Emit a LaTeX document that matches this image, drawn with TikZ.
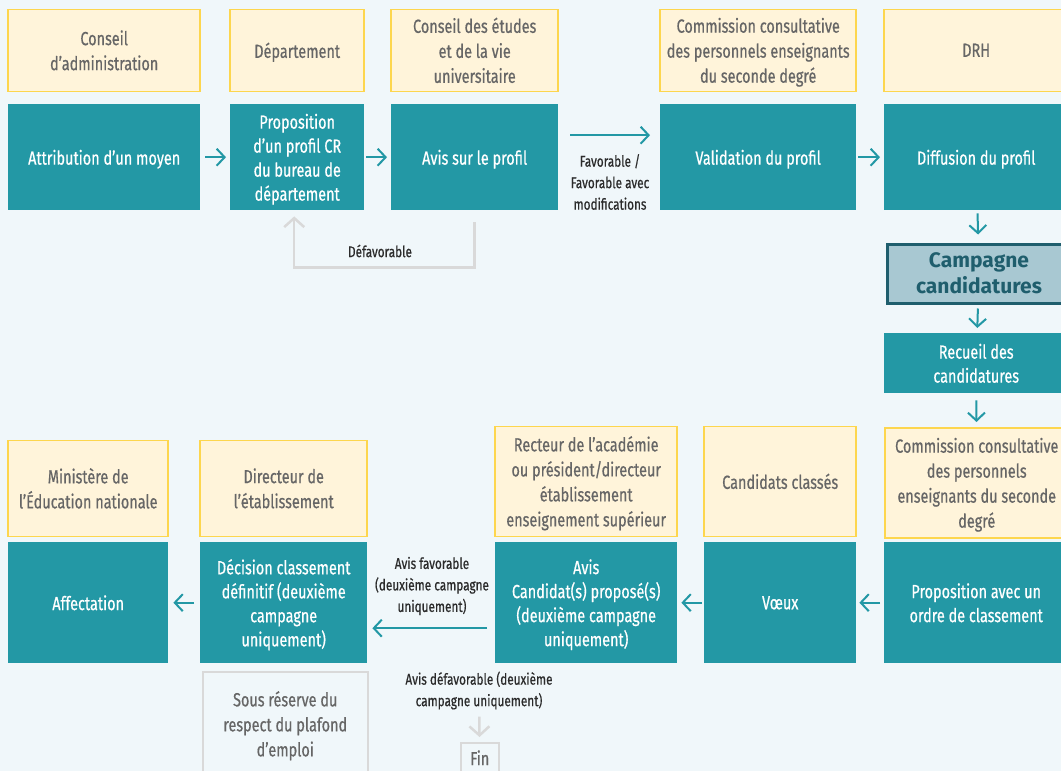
\documentclass[tikz,border=0pt]{standalone}
\usepackage{fontspec}
\setmainfont[FakeStretch=0.76,FakeBold=0.6]{Fira Sans}
\newfontfamily\widefont{Fira Sans}
\usepackage{tikz}
\usetikzlibrary{arrows.meta,positioning,calc}
\definecolor{bgblue}{HTML}{F0F7FA}
\definecolor{taskfill}{HTML}{2398A5}
\definecolor{actorfill}{HTML}{FFF4DA}
\definecolor{actorline}{HTML}{FDD64E}
\definecolor{actortext}{HTML}{666666}
\definecolor{notetext}{HTML}{2B2B2B}
\definecolor{loopgray}{HTML}{D9D9D9}
\definecolor{campfill}{HTML}{A8C8D2}
\definecolor{campline}{HTML}{1F5E6D}
\tikzset{wh/.style 2 args={minimum width=#1pt,minimum height=#2pt}}
\tikzstyle{task}=[fill=taskfill,text=white,align=center,anchor=north west,inner sep=0pt,text depth=-3pt,font=\fontsize{19}{24}\selectfont]
\tikzstyle{actor}=[draw=actorline,fill=actorfill,line width=1.5pt,text=actortext,align=center,inner sep=0pt,text depth=-3pt,font=\fontsize{19}{25}\selectfont]
\tikzstyle{aside}=[draw=loopgray,line width=1.5pt,text=actortext,align=center,anchor=north west,inner sep=0pt,font=\fontsize{19}{25}\selectfont]
\tikzstyle{note}=[text=notetext,align=center,inner sep=0pt,font=\fontsize{15.5}{21.5}\selectfont]
\tikzstyle{flow}=[draw=taskfill,line width=2pt,-{Straight Barb[length=8pt,width=17pt]}]
\tikzstyle{refusal}=[draw=loopgray,line width=2.5pt,-{Straight Barb[length=9pt,width=20pt]}]

\begin{document}
\begin{tikzpicture}[x=1pt,y=-1pt]
\fill[bgblue] (0,0) rectangle (1061,771);
\useasboundingbox (0,0) rectangle (1061,771);

% first row
\node[task, wh={192}{106}] (attr) at (8,104) {Attribution d’un moyen};
\node[task, wh={134}{106}] (prop) at (230,104) {Proposition\\d’un profil CR\\du bureau de\\département};
\node[task, wh={167}{106}] (avis) at (391,104) {Avis sur le profil};
\node[task, wh={196}{106}] (valid) at (660,104) {Validation du profil};
\node[task, wh={184}{106}] (diff) at (884,104) {Diffusion du profil};

\node[actor, wh={192}{82}, above=12pt of attr] (ca) {Conseil\\d’administration};
\node[actor, wh={134}{82}, above=12pt of prop] (dep) {Département};
\node[actor, wh={167}{82}, above=12pt of avis] (cevu) {Conseil des études\\et de la vie\\universitaire};
\node[actor, wh={196}{82}, above=12pt of valid] (ccpa) {Commission consultative\\des personnels enseignants\\du seconde degré};
\node[actor, wh={184}{82}, above=12pt of diff] (drh) {DRH};

\draw[flow, shorten <=5pt, shorten >=4pt] (attr) -- (prop);
\draw[flow, shorten <=2pt, shorten >=4pt] (prop) -- (avis);
\draw[flow, shorten <=12pt, shorten >=10pt] ([yshift=22pt]avis.east) -- ([yshift=22pt]valid.west);
\draw[flow, shorten <=2pt, shorten >=4pt] (valid) -- (diff);
\node[note] (favnote) at (610,182) {Favorable /\\Favorable avec\\modifications};

\draw[refusal, shorten <=12pt, shorten >=6pt] (avis.south) -- ++(0,57) -| ([xshift=-3pt]prop.south);
\node[note] (defav) at (380,251) {Défavorable};

% right column
\node[draw=campline, fill=campfill, line width=3pt, text=campline, anchor=north west, inner sep=0pt,
  wh={184}{59}, align=center, font=\widefont\bfseries\fontsize{21}{26}\selectfont] (camp) at (885.5,242.5) {Campagne\\candidatures};
\node[task, wh={184}{60}] (recueil) at (884,333) {Recueil des\\candidatures};
\node[actor, wh={184}{110}, anchor=north west] (ccpb) at (884,427) {Commission consultative\\des personnels\\enseignants du seconde\\degré};

\draw[flow, shorten <=3pt, shorten >=8pt] (diff) -- (camp);
\draw[flow, shorten <=4pt, shorten >=5pt] (camp) -- (recueil);
\draw[flow, shorten <=7pt, shorten >=5pt] (recueil) -- (ccpb);

% second row
\node[task, wh={184}{121}] (propo) at (884,542) {Proposition avec un\\ordre de classement};
\node[task, wh={152}{121}] (voeux) at (704,542) {Vœux};
\node[task, wh={182}{121}] (avisb) at (495,542) {Avis\\Candidat(s) proposé(s)\\(deuxième campagne\\uniquement)};
\node[task, wh={167}{121}] (decis) at (200,542) {Décision classement\\définitif (deuxième\\campagne\\uniquement)};
\node[task, wh={160}{121}] (affect) at (8,542) {Affectation};

\node[actor, wh={152}{110}, above=5pt of voeux] (classes) {Candidats classés};
\node[actor, wh={182}{110}, above=5pt of avisb] (recteur) {Recteur de l’académie\\ou président/directeur\\établissement\\enseignement supérieur};
\node[actor, wh={167}{96}, above=5pt of decis] (direct) {Directeur de\\l’établissement};
\node[actor, wh={160}{96}, above=5pt of affect] (minist) {Ministère de\\l’Éducation nationale};

\draw[flow, shorten <=4pt, shorten >=3pt] (propo) -- (voeux);
\draw[flow, shorten <=2pt, shorten >=4pt] (voeux) -- (avisb);
\draw[flow, shorten <=8pt, shorten >=5pt] ([yshift=-25.5pt]avisb.west) -- ([yshift=-25.5pt]decis.east);
\draw[flow, shorten <=6pt, shorten >=5pt] (decis) -- (affect);
\node[note] (favb) at (432,586) {Avis favorable\\(deuxième campagne\\uniquement)};

% below
\node[aside, wh={165}{108}] (plafond) at (202,671) {Sous réserve du\\respect du plafond\\d’emploi};
\node[note] (defavb) at (479,690.5) {Avis défavorable (deuxième\\campagne uniquement)};
\node[aside, wh={38}{30}] (fin) at (460,742) {Fin};
\draw[refusal, shorten <=7pt, shorten >=5pt] (defavb) -- (fin);
\end{tikzpicture}
\end{document}
